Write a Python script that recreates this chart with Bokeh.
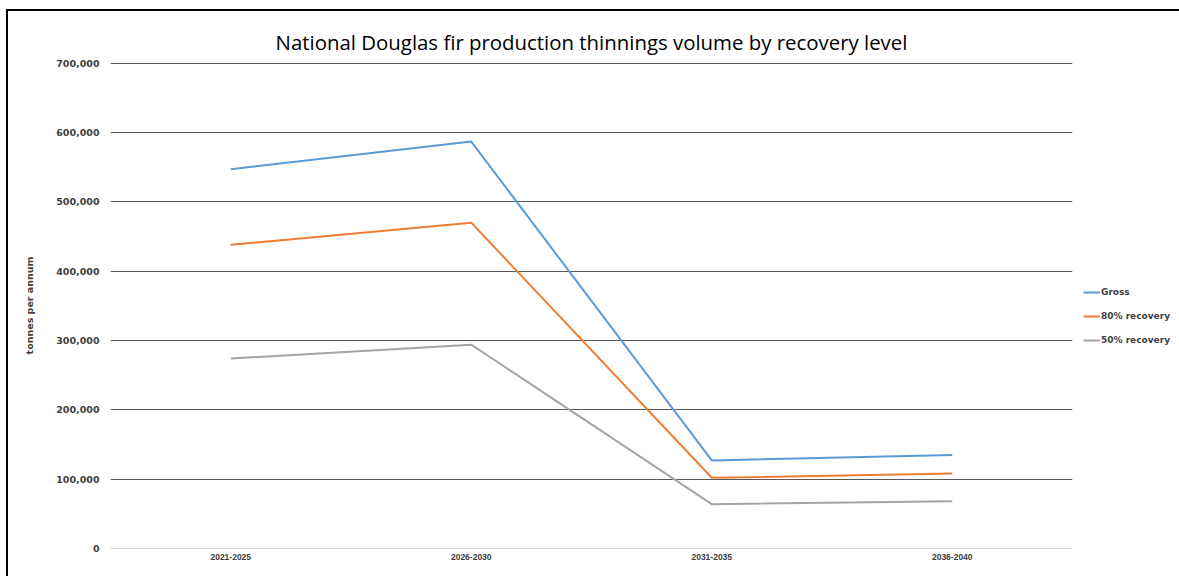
from bokeh.plotting import figure
from bokeh.models import Legend, LegendItem, FixedTicker, NumeralTickFormatter, Range1d, FactorRange
from bokeh.embed import file_html
from bokeh.resources import INLINE

periods = ["2021-2025", "2026-2030", "2031-2035", "2036-2040"]
gross = [547000, 587000, 127000, 135000]
rec80 = [438000, 470000, 102000, 108000]
rec50 = [274000, 294000, 64000, 68000]
series_names = ["Gross", "80% recovery", "50% recovery"]
colors = ["#5B9BD5", "#ED7D31", "#A5A5A5"]
y_ticks = [0, 100000, 200000, 300000, 400000, 500000, 600000, 700000]

p = figure(width=1179, height=576, output_backend="svg", toolbar_location=None,
           x_range=FactorRange(*periods, range_padding=0), y_range=Range1d(0, 701000),
           frame_width=962, frame_height=486,
           min_border_left=110, min_border_top=62, min_border_right=107, min_border_bottom=28)
p.outline_line_color = None
p.border_fill_color = None
p.background_fill_color = "#FFFFFF"
p.styles = {
    "background": "linear-gradient(#000,#000) 6px 9px / 2px 100% no-repeat, "
                  "linear-gradient(#000,#000) 6px 9px / 100% 2px no-repeat, #FFFFFF"
}

p.title.text = "National Douglas fir production thinnings volume by recovery level"
p.title.align = "center"
p.title.text_font = "Open Sans"
p.title.text_font_size = "20.4px"
p.title.text_font_style = "normal"
p.title.text_color = "#000000"
p.title.standoff = 14

renderers = []
for vals, c in zip([gross, rec80, rec50], colors):
    r = p.line(periods, vals, line_color=c, line_width=2)
    renderers.append(r)

legend = Legend(items=[LegendItem(label=n, renderers=[r]) for n, r in zip(series_names, renderers)],
                location=(11, 198), orientation="vertical", border_line_color=None,
                background_fill_alpha=0, padding=0, margin=0, spacing=4,
                label_height=20, glyph_height=20, glyph_width=17, label_standoff=1,
                label_text_font="DejaVu Sans", label_text_font_style="bold",
                label_text_font_size="9px", label_text_color="#404040")
p.add_layout(legend, "right")

p.ygrid.ticker = FixedTicker(ticks=y_ticks[1:])
p.ygrid.grid_line_color = "#595959"
p.ygrid.grid_line_width = 1
p.xgrid.grid_line_color = None

p.yaxis.ticker = FixedTicker(ticks=y_ticks)
p.yaxis.formatter = NumeralTickFormatter(format="0,0")
p.yaxis.axis_line_color = None
p.yaxis.major_tick_line_color = None
p.yaxis.minor_tick_line_color = None
p.yaxis.major_tick_out = 0
p.yaxis.major_tick_in = 0
p.yaxis.major_label_standoff = 11
p.yaxis.major_label_text_font = "DejaVu Sans"
p.yaxis.major_label_text_font_style = "bold"
p.yaxis.major_label_text_font_size = "9.5px"
p.yaxis.major_label_text_color = "#404040"
p.yaxis.axis_label = "tonnes per annum"
p.yaxis.axis_label_text_font = "DejaVu Sans"
p.yaxis.axis_label_text_font_style = "bold"
p.yaxis.axis_label_text_font_size = "9.5px"
p.yaxis.axis_label_text_color = "#404040"
p.yaxis.axis_label_standoff = 18

p.xaxis.axis_line_color = "#D9D9D9"
p.xaxis.major_tick_line_color = None
p.xaxis.minor_tick_line_color = None
p.xaxis.major_tick_out = 0
p.xaxis.major_tick_in = 0
p.xaxis.major_label_standoff = 5
p.xaxis.major_label_text_font = "Liberation Sans"
p.xaxis.major_label_text_font_style = "bold"
p.xaxis.major_label_text_font_size = "8.5px"
p.xaxis.major_label_text_color = "#404040"

open("out.html", "w").write(file_html(p, INLINE))
